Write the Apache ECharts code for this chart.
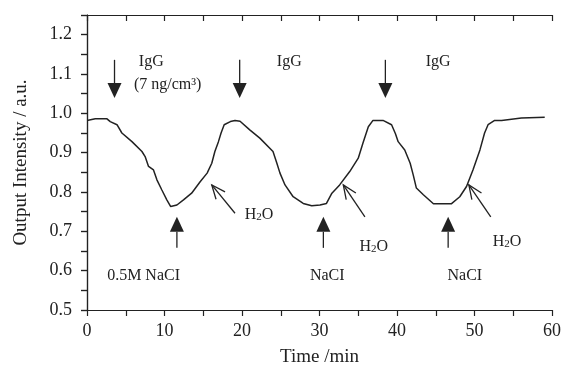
<!DOCTYPE html>
<html>
<head>
<meta charset="utf-8">
<script src="https://cdn.jsdelivr.net/npm/echarts@6/dist/echarts.min.js"></script>
<style>
  html, body { margin: 0; padding: 0; background: #fff; }
  #chart { width: 562px; height: 367px; }
</style>
</head>
<body>
<div id="chart"></div>
<script>
// curve
const timeMin = [0, 1.07, 2.58, 3.0, 3.87, 4.5, 5.8, 7.09, 7.5, 7.94, 8.58, 9.02, 9.66, 10.3, 10.8,
  11.6, 12.45, 13.5, 14.6, 15.5, 16.1, 16.5, 16.96, 17.3, 17.7, 18.5, 19.1, 19.75, 21.0, 22.3,
  24.0, 24.5, 24.9, 25.55, 26.6, 27.9, 29.0, 30.06, 30.9, 31.6, 32.6, 33.9, 35.0, 35.6, 36.3,
  36.9, 38.2, 39.3, 39.8, 40.15, 41.0, 41.7, 42.1, 42.5, 43.4, 44.7, 47.0, 48.1, 48.97, 49.8,
  50.7, 51.3, 51.75, 52.6, 53.5, 56.05, 59.06]
const intensity = [0.982, 0.986, 0.986, 0.979, 0.971, 0.950, 0.928, 0.903, 0.890, 0.865, 0.856, 0.831, 0.805, 0.780, 0.763,
  0.767, 0.780, 0.797, 0.826, 0.848, 0.873, 0.903, 0.928, 0.950, 0.971, 0.979, 0.982, 0.980, 0.958, 0.937,
  0.903, 0.873, 0.848, 0.818, 0.788, 0.771, 0.765, 0.767, 0.771, 0.797, 0.818, 0.852, 0.886, 0.924, 0.966,
  0.982, 0.982, 0.971, 0.948, 0.928, 0.907, 0.873, 0.843, 0.810, 0.793, 0.770, 0.770, 0.788, 0.814, 0.856,
  0.907, 0.950, 0.971, 0.982, 0.982, 0.988, 0.990]

// filled arrows: [x, tail y, tip y]
const igGArrows = [[3.55, 1.136, 1.039], [19.7, 1.136, 1.039], [38.5, 1.136, 1.039]]
const naclArrows = [[11.6, 0.658, 0.737], [30.5, 0.658, 0.737], [46.6, 0.658, 0.737]]
// open arrows (H2O): [tail x, tail y, tip x, tip y]
const waterArrows = [[19.1, 0.746, 16.1, 0.818], [35.86, 0.737, 33.07, 0.818], [52.1, 0.737, 49.27, 0.818]]

// annotation texts and where they sit
const noteTexts = ['IgG', '(7 ng/cm³)', 'IgG', 'IgG', '0.5M NaCI', 'NaCI', 'NaCI', 'H{s|2}O', 'H{s|2}O', 'H{s|2}O']
const noteX = [8.29, 10.4, 26.1, 45.3, 7.3, 31.0, 48.75, 22.2, 37.0, 54.2]
const noteY = [1.131, 1.073, 1.131, 1.131, 0.587, 0.587, 0.587, 0.742, 0.661, 0.674]

const ink = '#222'
const serif = '"Liberation Serif", "DejaVu Serif", serif'

const chart = echarts.init(document.getElementById('chart'))

function filledArrow(params, api) {
  const a = api.coord([api.value(0), api.value(1)])
  const b = api.coord([api.value(0), api.value(2)])
  const dir = b[1] > a[1] ? 1 : -1
  const base = b[1] - dir * 15
  return {
    type: 'group',
    children: [
      { type: 'line', shape: { x1: a[0], y1: a[1], x2: b[0], y2: base }, style: { stroke: ink, lineWidth: 1.3 } },
      { type: 'polygon', shape: { points: [[b[0] - 7, base], [b[0] + 7, base], [b[0], b[1]]] }, style: { fill: ink } },
    ],
  }
}

function openArrow(params, api) {
  const a = api.coord([api.value(0), api.value(1)])
  const b = api.coord([api.value(2), api.value(3)])
  const ang = Math.atan2(a[1] - b[1], a[0] - b[0])
  const len = 15, spread = 0.4
  const h1 = [b[0] + len * Math.cos(ang + spread), b[1] + len * Math.sin(ang + spread)]
  const h2 = [b[0] + len * Math.cos(ang - spread), b[1] + len * Math.sin(ang - spread)]
  const st = { stroke: ink, lineWidth: 1.3, fill: 'none' }
  return {
    type: 'group',
    children: [
      { type: 'line', shape: { x1: a[0], y1: a[1], x2: b[0], y2: b[1] }, style: st },
      { type: 'polyline', shape: { points: [h1, b, h2] }, style: st },
    ],
  }
}

function noteText(params, api) {
  const p = api.coord([api.value(0), api.value(1)])
  return {
    type: 'text',
    x: p[0],
    y: p[1],
    style: {
      text: noteTexts[params.dataIndex],
      fill: ink,
      fontFamily: serif,
      fontSize: 16,
      align: 'center',
      verticalAlign: 'middle',
      rich: { s: { fontSize: 11, fontFamily: serif, fill: ink, verticalAlign: 'bottom', padding: [5, 0, 0, 0] } },
    },
  }
}

function tickLabel(v, step) {
  return Math.round(v * 1000) % Math.round(step * 1000) === 0
}

const option = {
  animation: false,
  backgroundColor: '#fff',
  grid: { left: 87, right: 10, top: 15, bottom: 57, outerBoundsMode: 'none' },
  xAxis: [
    {
      type: 'value', min: 0, max: 60, interval: 5,
      name: 'Time /min', nameLocation: 'middle', nameGap: 38,
      nameTextStyle: { fontFamily: serif, fontSize: 19, color: ink },
      axisLine: { lineStyle: { color: ink, width: 1.2 } },
      axisTick: { length: 6, lineStyle: { color: ink, width: 1.2 } },
      axisLabel: {
        margin: 12, fontFamily: serif, fontSize: 18, color: ink,
        formatter: v => (tickLabel(v, 10) ? String(Math.round(v)) : ''),
      },
      splitLine: { show: false },
    },
    {
      type: 'value', position: 'top', min: 0, max: 60, interval: 5,
      axisLine: { show: true, lineStyle: { color: ink, width: 1.2 } },
      axisTick: { inside: true, length: 6, lineStyle: { color: ink, width: 1.2 } },
      axisLabel: { show: false },
      splitLine: { show: false },
    },
  ],
  yAxis: [
    {
      type: 'value', min: 0.5, max: 1.25, interval: 0.05,
      name: 'Output Intensity / a.u.', nameLocation: 'middle', nameGap: 56,
      nameTextStyle: { fontFamily: serif, fontSize: 19, color: ink },
      axisLine: { show: true, lineStyle: { color: ink, width: 1.2 } },
      axisTick: { show: true, length: 6, lineStyle: { color: ink, width: 1.2 } },
      axisLabel: {
        margin: 15, fontFamily: serif, fontSize: 18, color: ink,
        formatter: v => (tickLabel(v, 0.1) && v < 1.21 ? v.toFixed(1) : ''),
      },
      splitLine: { show: false },
    },
    {
      type: 'value', position: 'right', min: 0.5, max: 1.25, interval: 0.05,
      axisLine: { show: true, lineStyle: { color: ink, width: 1.2 } },
      axisTick: { show: true, inside: true, length: 6, lineStyle: { color: ink, width: 1.2 } },
      axisLabel: { show: false },
      splitLine: { show: false },
    },
  ],
  series: [
    {
      type: 'line',
      data: timeMin.map((t, i) => [t, intensity[i]]),
      showSymbol: false,
      lineStyle: { color: ink, width: 1.5 },
      z: 3,
    },
    { type: 'custom', renderItem: filledArrow, data: igGArrows.concat(naclArrows), z: 4 },
    { type: 'custom', renderItem: openArrow, data: waterArrows, z: 4 },
    { type: 'custom', renderItem: noteText, data: noteX.map((x, i) => [x, noteY[i]]), z: 5 },
  ],
}

chart.setOption(option)
</script>
</body>
</html>
